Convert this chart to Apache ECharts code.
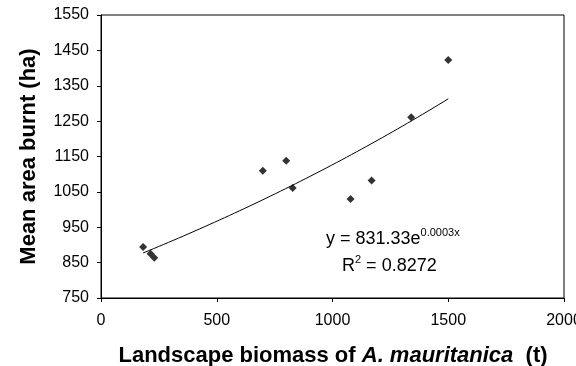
<!DOCTYPE html>
<html>
<head>
<meta charset="utf-8">
<script src="https://cdn.jsdelivr.net/npm/echarts@6/dist/echarts.min.js"></script>
<style>
  html, body { margin: 0; padding: 0; background: #fff; }
  #chart { width: 576px; height: 366px; }
</style>
</head>
<body>
<div id="chart"></div>
<script>
// Landscape biomass of A. mauritanica (t) against mean area burnt (ha)
const biomass = [182, 214, 230, 699, 800, 828, 1078, 1169, 1340, 1500];
const areaBurnt = [894, 875, 864, 1110, 1138, 1061, 1030, 1082, 1261, 1423];

const xTicks = [0, 500, 1000, 1500, 2000];
const yTicks = [750, 850, 950, 1050, 1150, 1250, 1350, 1450, 1550];

const equationText = 'y = 831.33e';
const equationExp = '0.0003x';
const rSquaredText = '0.8272';

// Exponential trend y = a·e^(b·x), fitted by least squares on ln(y)
function fitExponential(xs, ys) {
  const n = xs.length;
  const ly = ys.map(v => Math.log(v));
  const mx = xs.reduce((s, v) => s + v, 0) / n;
  const my = ly.reduce((s, v) => s + v, 0) / n;
  let sxy = 0, sxx = 0;
  for (let i = 0; i < n; i++) {
    sxy += (xs[i] - mx) * (ly[i] - my);
    sxx += (xs[i] - mx) * (xs[i] - mx);
  }
  const b = sxy / sxx;
  const a = Math.exp(my - b * mx);
  return { a, b };
}

const fit = fitExponential(biomass, areaBurnt);
const xLo = Math.min(...biomass);
const xHi = Math.max(...biomass);
const trend = [];
for (let i = 0; i <= 60; i++) {
  const x = xLo + (xHi - xLo) * i / 60;
  trend.push([x, fit.a * Math.exp(fit.b * x)]);
}

const FONT = "'Liberation Sans', Arial, sans-serif";

const chart = echarts.init(document.getElementById('chart'), null, { renderer: 'canvas' });

chart.setOption({
  animation: false,
  backgroundColor: '#fff',
  grid: {
    left: 101, right: 12, top: 15, bottom: 68,
    outerBoundsMode: 'none',
    containLabel: false,
    show: true, borderColor: '#000', borderWidth: 1, backgroundColor: 'transparent'
  },
  xAxis: {
    type: 'value',
    min: xTicks[0], max: xTicks[xTicks.length - 1], interval: 500,
    axisLine: { show: true, lineStyle: { color: '#000', width: 1 } },
    axisTick: { show: true, inside: false, length: 4, lineStyle: { color: '#000' } },
    axisLabel: {
      color: '#000', fontFamily: FONT, fontSize: 16, margin: 15,
      formatter: v => String(v)
    },
    splitLine: { show: false }
  },
  yAxis: {
    type: 'value',
    min: yTicks[0], max: yTicks[yTicks.length - 1], interval: 100,
    axisLine: { show: true, lineStyle: { color: '#000', width: 1 } },
    axisTick: { show: true, inside: false, length: 4, lineStyle: { color: '#000' } },
    axisLabel: {
      color: '#000', fontFamily: FONT, fontSize: 16, margin: 12,
      formatter: v => String(v)
    },
    splitLine: { show: false }
  },
  series: [
    {
      type: 'line',
      data: trend,
      showSymbol: false,
      symbol: 'none',
      lineStyle: { color: '#000', width: 1 },
      z: 2
    },
    {
      type: 'scatter',
      data: biomass.map((x, i) => [x, areaBurnt[i]]),
      symbol: 'diamond',
      symbolSize: 8,
      itemStyle: { color: '#000' },
      z: 3
    }
  ],
  graphic: [
    {
      type: 'text',
      x: 28.5,
      y: 156.5,
      rotation: Math.PI / 2,
      style: {
        text: 'Mean area burnt (ha)',
        font: 'bold 22px ' + FONT,
        fill: '#000',
        align: 'center',
        verticalAlign: 'middle'
      }
    },
    {
      type: 'text',
      x: 333,
      y: 356,
      style: {
        text: '{b|Landscape biomass of }{i|A. mauritanica}{b|  (t)}',
        align: 'center',
        verticalAlign: 'middle',
        rich: {
          b: { font: 'bold 22px ' + FONT, fill: '#000' },
          i: { font: 'italic bold 22px ' + FONT, fill: '#000' }
        }
      }
    },
    {
      type: 'text',
      x: 326,
      y: 227.5,
      style: {
        text: '{m|' + equationText + '}{s|' + equationExp + '}',
        align: 'left',
        verticalAlign: 'top',
        rich: {
          m: { fontFamily: FONT, fontSize: 18, lineHeight: 24, fill: '#000' },
          s: { fontFamily: FONT, fontSize: 11, lineHeight: 6, verticalAlign: 'top', fill: '#000' }
        }
      }
    },
    {
      type: 'text',
      x: 342,
      y: 254.5,
      style: {
        text: '{m|R}{s|2}{m| = ' + rSquaredText + '}',
        align: 'left',
        verticalAlign: 'top',
        rich: {
          m: { fontFamily: FONT, fontSize: 18, lineHeight: 24, fill: '#000' },
          s: { fontFamily: FONT, fontSize: 11, lineHeight: 14, verticalAlign: 'top', fill: '#000' }
        }
      }
    }
  ]
});
</script>
</body>
</html>
